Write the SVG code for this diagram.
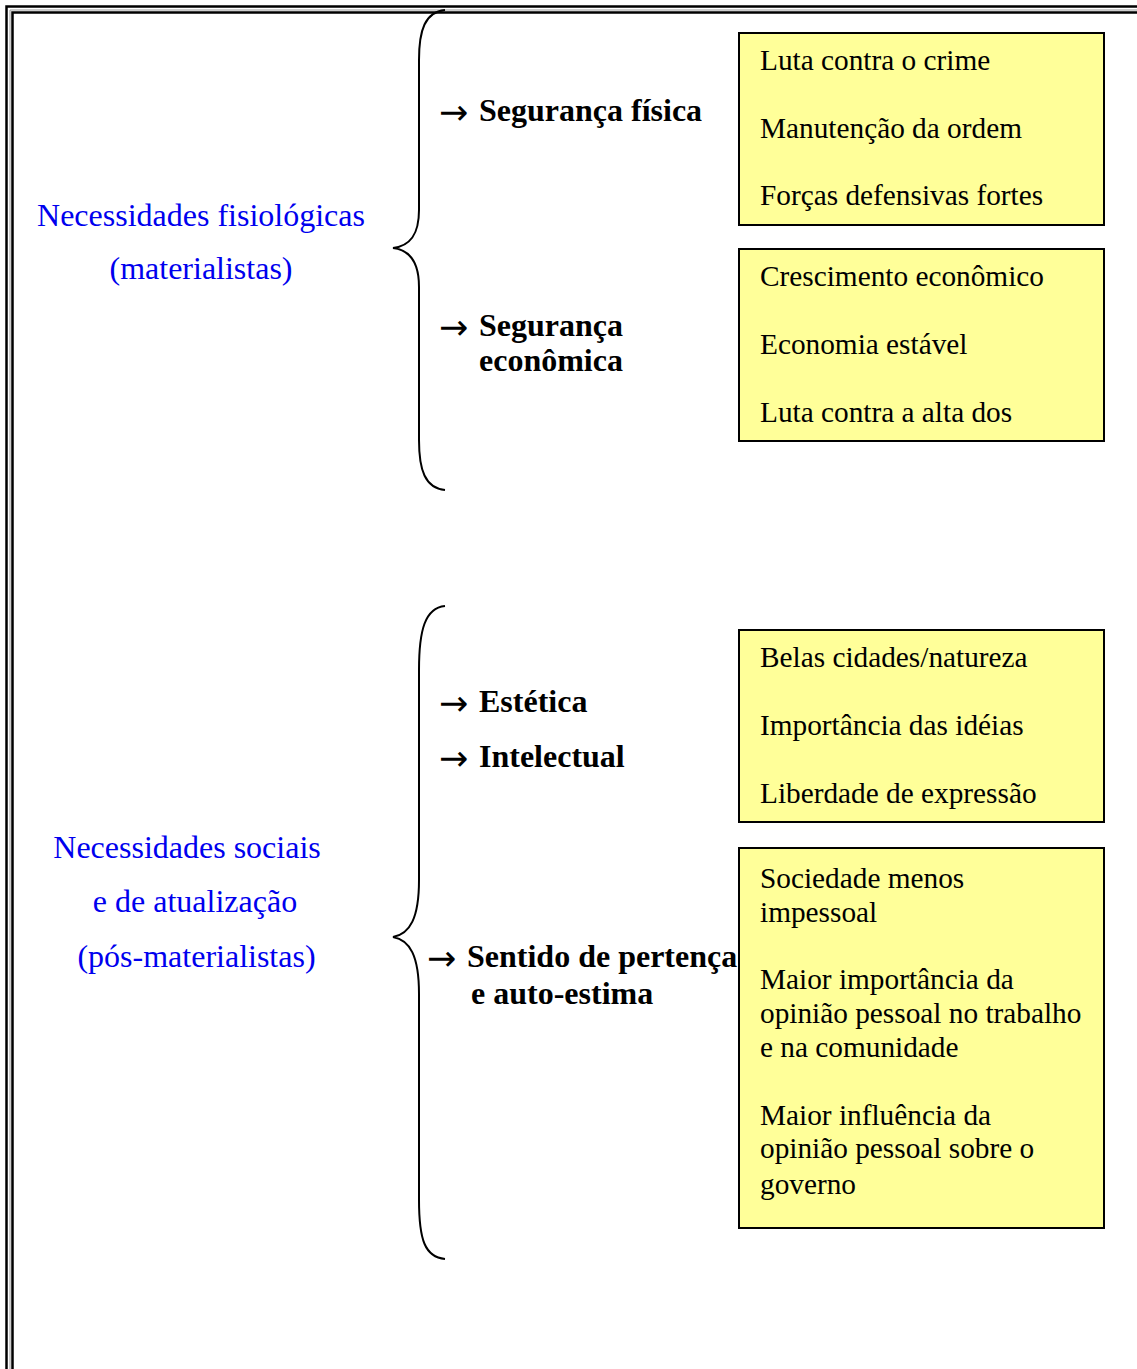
<svg xmlns="http://www.w3.org/2000/svg" width="1137" height="1369" viewBox="0 0 1137 1369">
<style>
.frame{fill:none;stroke:#000;stroke-width:2.5}
.frameg{fill:none;stroke:#999;stroke-width:1}
.brace{fill:none;stroke:#000;stroke-width:2}
.box{fill:#ffff99;stroke:#000;stroke-width:2}
.t{font-family:"Liberation Serif","Times New Roman",serif;font-size:29.3px;fill:#000}
.b{font-family:"Liberation Serif","Times New Roman",serif;font-size:32px;font-weight:bold;fill:#000}
.a{font-family:"DejaVu Sans",sans-serif;font-size:35px;fill:#000}
.l{font-family:"Liberation Serif","Times New Roman",serif;font-size:32px;fill:#0000ee;text-anchor:middle}
</style>
<g id="frame">
<path class="frame" d="M6.5,1369 V6.5 H1137"/>
<path class="frameg" d="M10,1369 V10 H1137"/>
<path class="frame" d="M12.5,1369 V12.5 H1137"/>
</g>
<g id="connectors">
<path class="brace" d="M445,10 C425,12 419,30 419,60 V210 C419,235 410,246 393,248 C410,250 419,262 419,287 V440 C419,470 425,488 445,490"/>
<path class="brace" d="M445,606 C425,608 419,630 419,670 V880 C419,918 410,934 393,937 C410,940 419,956 419,994 V1200 C419,1240 425,1257 445,1259"/>
</g>
<g id="group1">
<text class="l" x="201" y="226">Necessidades fisiológicas</text>
<text class="l" x="201" y="279">(materialistas)</text>
</g>
<g id="group2">
<text class="l" x="187" y="858">Necessidades sociais</text>
<text class="l" x="195" y="912">e de atualização</text>
<text class="l" x="196.5" y="967">(pós-materialistas)</text>
</g>
<g id="seg-fisica">
<text class="a" x="439" y="124">→</text>
<text class="b" x="479" y="121">Segurança física</text>
</g>
<g id="seg-economica">
<text class="a" x="439" y="339">→</text>
<text class="b" x="479" y="336">Segurança</text>
<text class="b" x="479" y="371">econômica</text>
</g>
<g id="estetica">
<text class="a" x="439" y="715">→</text>
<text class="b" x="479" y="712">Estética</text>
</g>
<g id="intelectual">
<text class="a" x="439" y="770">→</text>
<text class="b" x="479" y="767">Intelectual</text>
</g>
<g id="pertenca">
<text class="a" x="427" y="970">→</text>
<text class="b" x="467" y="967">Sentido de pertença</text>
<text class="b" x="471" y="1004">e auto-estima</text>
</g>
<g id="box1">
<rect class="box" x="739" y="33" width="365" height="192"/>
<text class="t" x="760" y="70">Luta contra o crime</text>
<text class="t" x="760" y="138">Manutenção da ordem</text>
<text class="t" x="760" y="205">Forças defensivas fortes</text>
</g>
<g id="box2">
<rect class="box" x="739" y="249" width="365" height="192"/>
<text class="t" x="760" y="286">Crescimento econômico</text>
<text class="t" x="760" y="354">Economia estável</text>
<text class="t" x="760" y="422">Luta contra a alta dos</text>
</g>
<g id="box3">
<rect class="box" x="739" y="630" width="365" height="192"/>
<text class="t" x="760" y="667">Belas cidades/natureza</text>
<text class="t" x="760" y="735">Importância das idéias</text>
<text class="t" x="760" y="803">Liberdade de expressão</text>
</g>
<g id="box4">
<rect class="box" x="739" y="848" width="365" height="380"/>
<text class="t" x="760" y="888">Sociedade menos</text>
<text class="t" x="760" y="922">impessoal</text>
<text class="t" x="760" y="989">Maior importância da</text>
<text class="t" x="760" y="1023">opinião pessoal no trabalho</text>
<text class="t" x="760" y="1057">e na comunidade</text>
<text class="t" x="760" y="1125">Maior influência da</text>
<text class="t" x="760" y="1158">opinião pessoal sobre o</text>
<text class="t" x="760" y="1194">governo</text>
</g>
</svg>
